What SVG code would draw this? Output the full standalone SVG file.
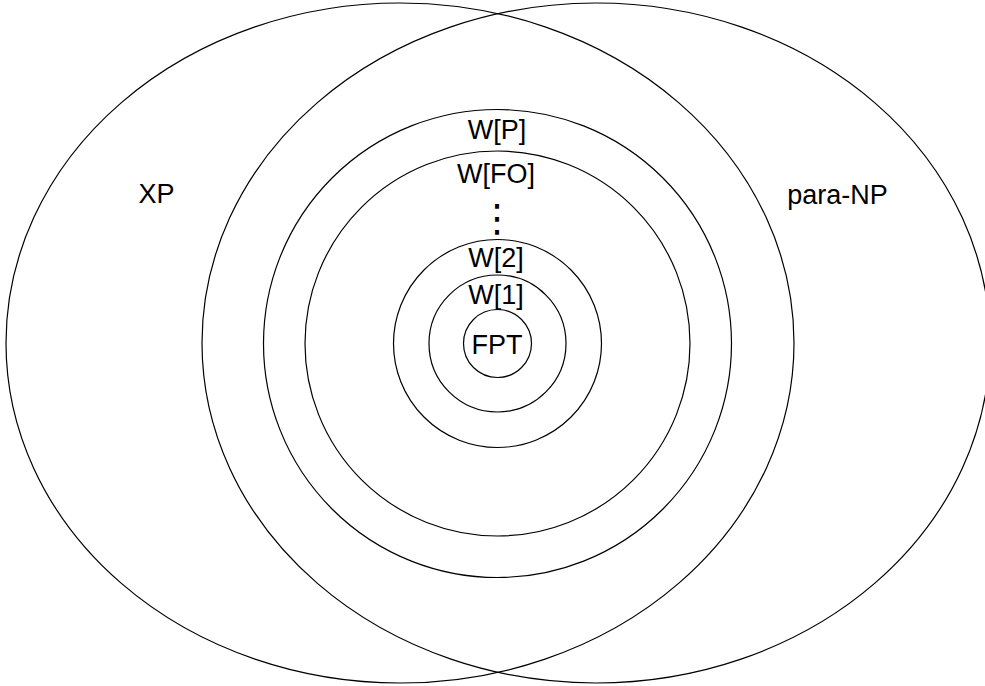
<svg xmlns="http://www.w3.org/2000/svg" width="985" height="686" viewBox="0 0 985 686">
<style>
.s{fill:none;stroke:#000;stroke-width:1.2}
.t{font-family:"Liberation Sans",Arial,sans-serif;font-size:27px;fill:#000;text-anchor:middle}
</style>
<rect width="985" height="686" fill="#fff"/>
<g id="XP"><ellipse class="s" cx="400" cy="343" rx="394" ry="340"/><text class="t" x="156.5" y="202.5">XP</text></g>
<g id="paraNP"><ellipse class="s" cx="596" cy="343" rx="394" ry="340"/><text class="t" x="837.5" y="203.5">para-NP</text></g>
<g id="WP"><circle class="s" cx="497.5" cy="343.5" r="234"/><text class="t" x="497" y="139">W[P]</text></g>
<g id="WFO"><circle class="s" cx="497.5" cy="343.5" r="192.5"/><text class="t" x="496" y="182.5">W[FO]</text></g>
<g id="dots"><text x="497" y="231" style="font-family:'DejaVu Sans',sans-serif;font-size:38px;text-anchor:middle">⋮</text></g>
<g id="W2"><circle class="s" cx="497.5" cy="343.5" r="104"/><text class="t" x="496" y="266.5">W[2]</text></g>
<g id="W1"><circle class="s" cx="497.5" cy="343.5" r="68.5"/><text class="t" x="496" y="303.5">W[1]</text></g>
<g id="FPT"><circle class="s" cx="497.5" cy="343.5" r="34"/><text class="t" x="497" y="353.5">FPT</text></g>
<g id="connectors"/>
</svg>
